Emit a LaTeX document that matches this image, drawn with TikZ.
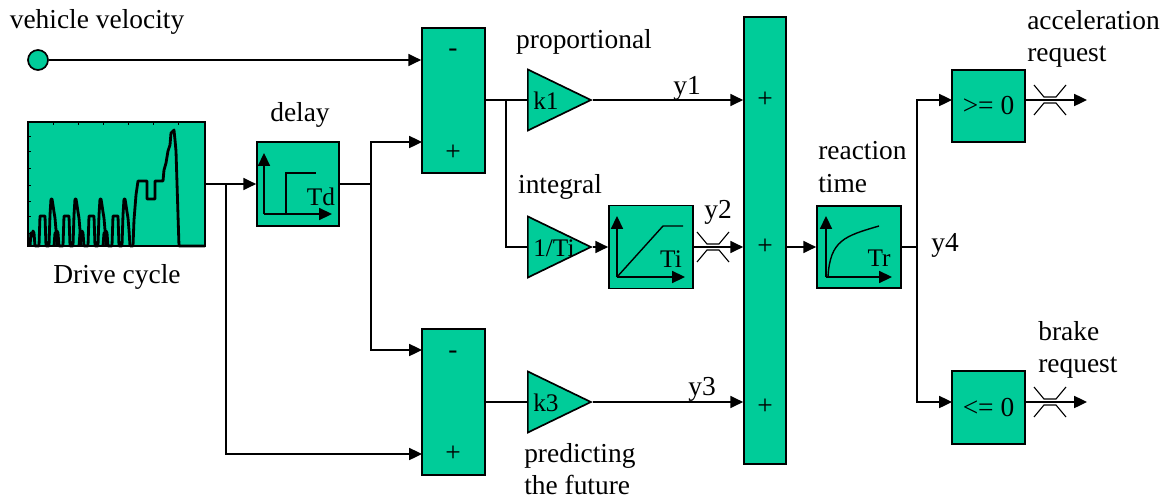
\documentclass[tikz,border=0pt]{standalone}
\usepackage{fontspec}
\setmainfont{Liberation Serif}
\usetikzlibrary{arrows.meta,shapes.geometric}
\definecolor{blockgreen}{RGB}{0,204,153}
\newcommand\bigtxt{\fontsize{19.5}{23}\selectfont}
\newcommand\smalltxt{\fontsize{18}{21}\selectfont}

\begin{document}
\begin{tikzpicture}[
  x=0.025cm, y=-0.025cm,
  block/.style={
    draw,
    fill=blockgreen,
    line width=1.2pt,
    inner sep=0pt,
    font=\bigtxt
  },
  gain/.style={
    isosceles triangle,
    isosceles triangle stretches,
    draw,
    fill=blockgreen,
    line width=1.2pt,
    inner sep=0pt,
    minimum width=1.525cm,
    minimum height=1.575cm,
    anchor=west
  },
  edge/.style={
    -{Triangle[length=3.2mm,width=3mm]},
    line width=1.2pt
  },
  wire/.style={line width=1.2pt},
  txt/.style={font=\bigtxt, inner sep=0pt, align=left},
  xmark/.pic={
    \draw[line width=0.8pt] (-16,-15) -- (-6,-3) -- (6,-3) -- (16,-15)
                            (-16,15) -- (-6,3) -- (6,3) -- (16,15);
  }
  ]
  \useasboundingbox (0,0) rectangle (1172,501);

  % sources
  \node[circle, draw, fill=blockgreen, line width=1.2pt, minimum size=0.5cm, inner sep=0pt] (vv) at (38,60) {};
  \node[txt] (vvtxt) at (97,22) {vehicle velocity};

  \node[block, minimum width=4.425cm, minimum height=3.1cm] (drive) at (116.5,184) {};
  \foreach \t in {53,78,103,128,153,178}
    \draw[line width=0.6pt] (\t,122) -- (\t,125);
  \foreach \t in {136,151,168,185,201,216,233}
    \draw[line width=0.6pt] (28,\t) -- (31,\t);
  \draw[line width=2pt, line join=round] (28,246) -- (30,246);
  \foreach \o in {30,54,79,103}
    \draw[line width=2pt, line join=round]
      (\o,246) -- (\o+1,233) -- (\o+2,236) -- (\o+3,231) -- (\o+4,233) -- (\o+5,246)
      -- (\o+9,246) -- (\o+10,216) -- (\o+15,216) -- (\o+16,246) -- (\o+19,246)
      -- (\o+20,215) -- (\o+21,199) -- (\o+22,199) -- (\o+23,205) -- (\o+24,212)
      -- (\o+25,218) -- (\o+26,230) -- (\o+27,246);
  \draw[line width=2pt, line join=round]
    (130,246) -- (133,246) -- (134,220) -- (136,195) -- (138,181) -- (147,181)
    -- (147,199) -- (155,199) -- (155,181) -- (163,181) -- (164,170) -- (166,163)
    -- (168,151) -- (170,145) -- (171,133) -- (174,130) -- (175,140) -- (176,151)
    -- (178,215) -- (179,246) -- (205,246);
  \node[txt] (drivetxt) at (117,277) {Drive cycle};

  % delay
  \node[block, minimum width=2.05cm, minimum height=2.1cm] (delay) at (298,184) {};
  \node[txt] (delaytxt) at (300,115) {delay};
  \draw[edge, line width=1pt] (264,214) -- (264,153);
  \draw[edge, line width=1pt] (264,214) -- (332,214);
  \draw[line width=1pt] (286,214) -- (286,173) -- (316,173);
  \node[font=\smalltxt, inner sep=0pt] (tdtxt) at (321,197) {Td};

  % comparators
  \node[block, minimum width=1.575cm, minimum height=3.625cm] (sumA) at (453.5,100.5) {};
  \node[txt] (sumAm) at (453,53) {-};
  \node[txt] (sumAp) at (453,153) {+};
  \node[block, minimum width=1.575cm, minimum height=3.65cm] (sumB) at (453.5,402) {};
  \node[txt] (sumBm) at (453,355) {-};
  \node[txt] (sumBp) at (453,454) {+};

  % gains
  \node[gain] (k1) at (527,100) {};
  \node[font=\smalltxt, inner sep=0pt, anchor=west] (k1txt) at (533,101) {k1};
  \node[txt] (proptxt) at (584,42) {proportional};
  \node[gain] (ti) at (527,247) {};
  \node[font=\smalltxt, inner sep=0pt, anchor=west] (titxt) at (533,248) {1/Ti};
  \node[txt] (inttxt) at (560,187) {integral};
  \node[gain] (k3) at (527,402) {};
  \node[font=\smalltxt, inner sep=0pt, anchor=west] (k3txt) at (533,403) {k3};
  \node[txt, anchor=west] (predtxt) at (524,469) {predicting\\the future};

  % integrator
  \node[block, minimum width=2.1cm, minimum height=2.075cm] (integ) at (651,247) {};
  \draw[edge, line width=1pt] (617,277) -- (617,216);
  \draw[edge, line width=1pt] (617,277) -- (685,277);
  \draw[line width=1pt] (617,277) -- (663,226) -- (683,226);
  \node[font=\smalltxt, inner sep=0pt] (ititxt) at (671,259) {Ti};

  % summing junction
  \node[block, minimum width=1.05cm, minimum height=11.175cm] (sumC) at (765,240.5) {};
  \node[txt] (sumCp1) at (765,100) {+};
  \node[txt] (sumCp2) at (765,247) {+};
  \node[txt] (sumCp3) at (765,407) {+};

  % reaction time
  \node[block, minimum width=2.1cm, minimum height=2.05cm] (react) at (859,247) {};
  \node[txt, anchor=west] (reacttxt) at (818,167) {reaction\\time};
  \draw[edge, line width=1pt] (826,277) -- (826,216);
  \draw[edge, line width=1pt] (826,277) -- (892,277);
  \draw[line width=1pt] (828,277) .. controls (830,240) and (845,236) .. (879,226);
  \node[font=\smalltxt, inner sep=0pt] (trtxt) at (879,258) {Tr};

  % requests
  \node[block, minimum width=1.825cm, minimum height=1.8cm] (ge) at (988.5,106) {>= 0};
  \node[block, minimum width=1.825cm, minimum height=1.825cm] (le) at (988.5,407.5) {<= 0};
  \node[txt, anchor=west] (acctxt) at (1027,39) {acceleration\\request};
  \node[txt, anchor=west] (brktxt) at (1038,350) {brake\\request};

  % branch points and ports
  \coordinate (b1) at (226,184);
  \coordinate (b2) at (371,184);
  \coordinate (b3) at (506,100);
  \coordinate (b4) at (917,247);
  \coordinate (pA) at (422,142);
  \coordinate (pB1) at (422,350);
  \coordinate (pB2) at (422,454);
  \coordinate (gein) at (952,100);
  \coordinate (lein) at (952,402);
  \coordinate (accout) at (1087,100);
  \coordinate (brkout) at (1087,402);

  % connections
  \draw[edge] (vv) -- (vv -| sumA.west);
  \draw[edge] (drive.east) -- (delay.west);
  \draw[edge] (b1) |- (pB2);
  \draw[wire] (delay.east) -- (b2);
  \draw[edge] (b2) |- (pA);
  \draw[edge] (b2) |- (pB1);
  \draw[wire] (sumA.east |- k1.west) -- (k1.west);
  \draw[wire] (b3) |- (ti.west);
  \draw[edge] (k1.apex) -- (k1.apex -| sumC.west);
  \draw[edge] (ti.apex) -- (integ.west);
  \draw[edge] (integ.east) -- (integ.east -| sumC.west);
  \draw[wire] (sumB.east |- k3.west) -- (k3.west);
  \draw[edge] (k3.apex) -- (k3.apex -| sumC.west);
  \draw[edge] (sumC.east |- react.west) -- (react.west);
  \draw[wire] (react.east) -- (b4);
  \draw[edge] (b4) |- (gein);
  \draw[edge] (b4) |- (lein);
  \draw[edge] (gein -| ge.east) -- (accout);
  \draw[edge] (lein -| le.east) -- (brkout);
  \pic at (713,247) {xmark};
  \pic at (1050,100) {xmark};
  \pic at (1050,402) {xmark};

  % signal names
  \node[txt] (y1txt) at (687,88) {y1};
  \node[txt] (y2txt) at (718,212) {y2};
  \node[txt] (y3txt) at (702,389) {y3};
  \node[txt] (y4txt) at (945,245) {y4};
\end{tikzpicture}
\end{document}
